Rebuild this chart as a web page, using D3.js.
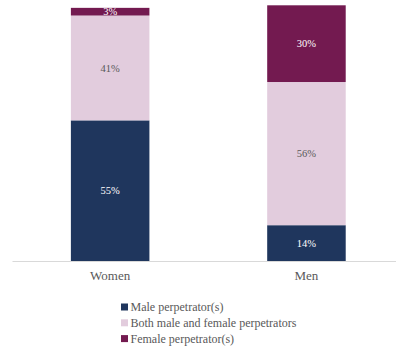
<!DOCTYPE html>
<html>
<head>
<meta charset="utf-8">
<script src="https://cdn.jsdelivr.net/npm/d3@7"></script>
<style>
  html, body { margin: 0; padding: 0; background: #fff; }
  svg { display: block; }
  text { font-family: "Liberation Serif", serif; }
</style>
</head>
<body>
<svg id="chart" width="396" height="348"></svg>
<script>
// Perpetrator gender, by gender of the person affected (%)
const groups = ["Women", "Men"];
const seriesNames = ["Male perpetrator(s)", "Both male and female perpetrators", "Female perpetrator(s)"];
const malePerp = [55, 14];
const bothPerp = [41, 56];
const femalePerp = [3, 30];

const colors = ["#1f365d", "#e2ccdd", "#731a50"];
const labelColors = ["#ffffff", "#595959", "#ffffff"];

const svg = d3.select("#chart");

const rows = groups.map((g, i) => ({
  group: g,
  [seriesNames[0]]: malePerp[i],
  [seriesNames[1]]: bothPerp[i],
  [seriesNames[2]]: femalePerp[i]
}));

const stacked = d3.stack().keys(seriesNames)(rows);

const x = d3.scaleBand()
  .domain(groups)
  .range([12, 404.6])
  .paddingInner(0.6)
  .paddingOuter(0.3);

const y = d3.scaleLinear().domain([0, 100]).range([261, 5.3]);

// stacked segments
const layer = svg.append("g").selectAll("g")
  .data(stacked)
  .join("g")
  .attr("fill", (d, i) => colors[i]);

layer.selectAll("rect")
  .data(d => d.map(p => ({ p, key: d.key })))
  .join("rect")
  .attr("x", d => x(d.p.data.group))
  .attr("width", x.bandwidth())
  .attr("y", d => y(d.p[1]))
  .attr("height", d => y(d.p[0]) - y(d.p[1]));

// segment value labels
stacked.forEach((s, si) => {
  svg.append("g").selectAll("text")
    .data(s)
    .join("text")
    .attr("x", d => x(d.data.group) + x.bandwidth() / 2)
    .attr("y", d => (y(d[0]) + y(d[1])) / 2)
    .attr("dy", "0.35em")
    .attr("text-anchor", "middle")
    .attr("font-size", 10.5)
    .attr("fill", labelColors[si])
    .text(d => (d[1] - d[0]) + "%");
});

// category axis
const axis = svg.append("g")
  .attr("transform", `translate(0,${y(0)})`)
  .call(d3.axisBottom(x).tickSize(0).tickPadding(10));
axis.select(".domain").attr("stroke", "#d9d9d9").attr("stroke-width", 1);
axis.selectAll("text")
  .attr("font-family", "Liberation Serif, serif")
  .attr("font-size", 13)
  .attr("fill", "#595959");

// legend
const legend = svg.append("g").attr("transform", "translate(121,307)");
const item = legend.selectAll("g")
  .data(seriesNames)
  .join("g")
  .attr("transform", (d, i) => `translate(0,${i * 15.8})`);
item.append("rect")
  .attr("x", 0).attr("y", -3.5)
  .attr("width", 7).attr("height", 7)
  .attr("fill", (d, i) => colors[i]);
item.append("text")
  .attr("x", 9.5)
  .attr("dy", "0.35em")
  .attr("font-size", 12)
  .attr("fill", "#595959")
  .text(d => d);
</script>
</body>
</html>
